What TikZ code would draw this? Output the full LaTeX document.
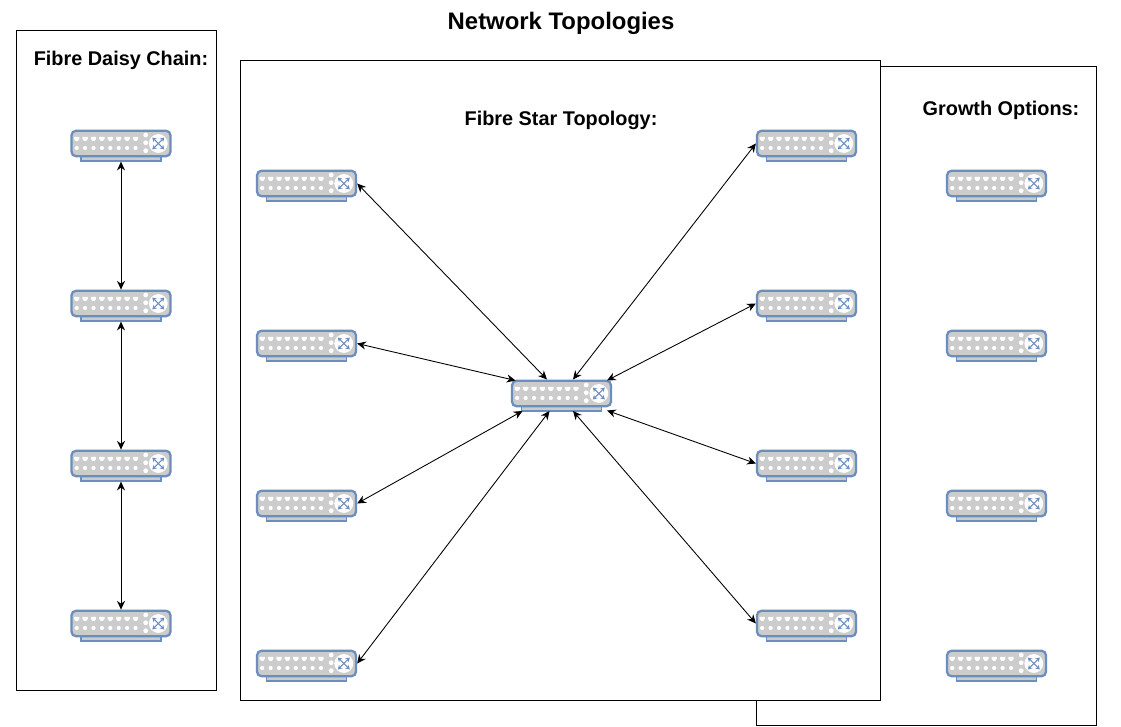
\documentclass[tikz,border=0pt]{standalone}
\usepackage{fontspec}
\setmainfont{Liberation Sans}
\usetikzlibrary{calc, arrows.meta}

\definecolor{switchblue}{HTML}{6C8EBF}
\definecolor{switchgray}{HTML}{CCCCCC}

\tikzset{
	frame/.style = {draw, fill=white, line width=0.55pt},
	heading/.style = {font=\bfseries\fontsize{11.3}{13}\selectfont},
	switchbody/.style = {draw=switchblue, fill=switchgray, line width=1.3pt, rounded corners=2.6pt, minimum width=99*0.02cm, minimum height=25.5*0.02cm, inner sep=0pt, outer sep=0.65pt},
	switchbase/.style = {draw=switchblue, fill=switchgray, line width=0.75pt, minimum width=80*0.02cm, minimum height=4.6*0.02cm, inner sep=0pt, outer sep=0.37pt},
	link/.style = {{Stealth[length=5pt, width=4.6pt]}-{Stealth[length=5pt, width=4.6pt]}, line width=0.5pt},
	crossline/.style = {switchblue, line width=0.6pt, {Stealth[length=2.4pt, width=2.8pt]}-{Stealth[length=2.4pt, width=2.8pt]}},
}

\newcommand{\switchunit}[3]{
	\node[switchbase] (#1b) at (#2,#3+15.2) {};
	\node[switchbody] (#1) at (#2,#3) {};
	\begin{scope}[shift={(#2,#3)}]
		\foreach \p in {0,...,7} {
			\fill[white] ({-47+8.4*\p},-6.6) -- ({-41.6+8.4*\p},-6.6) -- ({-41.6+8.4*\p},-4.6) -- ({-43.2+8.4*\p},-2.6) -- ({-45.4+8.4*\p},-2.6) -- ({-47+8.4*\p},-4.6) -- cycle;
			\fill[white] ({-44.3+8.4*\p},4.5) circle [radius=2.1];
		}
		\foreach \q in {-8.5,-0.8,7.2} {
			\fill[white] (24.7,\q) circle [radius=2.4];
		}
		\fill[white] (37.3,0) circle [radius=9.4];
		\draw[crossline] (31.3,-6) -- (43.3,6);
		\draw[crossline] (31.3,6) -- (43.3,-6);
	\end{scope}
}

\begin{document}
\begin{tikzpicture}[x=0.02cm, y=-0.02cm]
	\useasboundingbox (0,0) rectangle (1121,726);

	\draw[frame] (756.5,66) rectangle (1096.5,725);
	\draw[frame] (16.5,30.5) rectangle (216.5,690.5);
	\draw[frame] (240.5,60.5) rectangle (880.5,700.5);

	\node[font=\bfseries\fontsize{13.6}{16}\selectfont] (title) at (561,23) {Network Topologies};
	\node[heading] (daisylabel) at (121,60.5) {Fibre Daisy Chain:};
	\node[heading] (starlabel) at (561,120.5) {Fibre Star Topology:};
	\node[heading] (growthlabel) at (1001,110.5) {Growth Options:};

	\foreach \n/\y in {d1/143.5, d2/303.5, d3/463.5, d4/623.5} {
		\switchunit{\n}{121}{\y}
	}
	\foreach \n/\y in {l1/183.5, l2/343.5, l3/503.5, l4/663.5} {
		\switchunit{\n}{306.5}{\y}
	}
	\foreach \n/\y in {r1/143.5, r2/303.5, r3/463.5, r4/623.5} {
		\switchunit{\n}{806.5}{\y}
	}
	\foreach \n/\y in {g1/183.5, g2/343.5, g3/503.5, g4/663.5} {
		\switchunit{\n}{996.5}{\y}
	}
	\switchunit{hub}{561.5}{393.5}

	\draw[link] (d1b.south) -- (d2.north);
	\draw[link] (d2b.south) -- (d3.north);
	\draw[link] (d3b.south) -- (d4.north);

	\foreach \n/\dx/\dy in {l1/-14.5/-14, l2/-46/-13, l3/-39/17.5, l4/-12/17.5} {
		\draw[link] (\n.east) -- ($(hub)+(\dx,\dy)$);
	}
	\foreach \n/\dx/\dy in {r1/11.5/-14, r2/45.5/-13, r3/45.5/17, r4/11.5/17.5} {
		\draw[link] (\n.west) -- ($(hub)+(\dx,\dy)$);
	}
\end{tikzpicture}
\end{document}
